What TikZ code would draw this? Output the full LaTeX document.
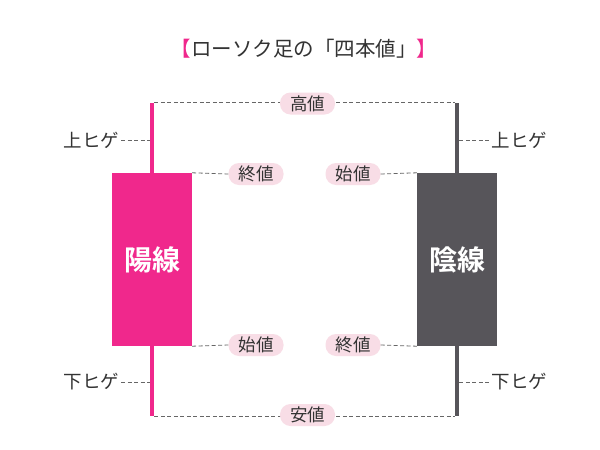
\documentclass[tikz,border=0pt]{standalone}
\usepackage{fontspec}
\newfontfamily\jp{Noto Sans CJK JP}
\newfontfamily\jpb{Noto Sans CJK JP Bold}
\definecolor{pinkc}{HTML}{F0288C}
\definecolor{grayc}{HTML}{57555A}
\definecolor{pillc}{HTML}{F8DDE6}
\definecolor{txtc}{HTML}{333333}
\definecolor{dashc}{HTML}{666666}
\tikzset{
  wickbox/.style={draw=none,fill=#1,minimum width=4.5pt,minimum height=313pt,inner sep=0pt},
  bodybox/.style={draw=none,fill=#1,minimum width=80pt,minimum height=173pt,inner sep=0pt,text=white,font=\jpb\fontsize{28}{28}\selectfont},
  pill/.style={fill=pillc,draw=none,rounded corners=10.5pt,minimum width=55pt,minimum height=22pt,inner sep=0pt,text=txtc,font=\jp\fontsize{17.5}{18}\selectfont},
  lbl/.style={text=txtc,inner sep=1.5pt,font=\jp\fontsize{18.5}{19}\selectfont},
  dline/.style={draw=dashc,line width=0.8pt,dash pattern=on 4pt off 2.5pt}
}
\begin{document}
\begin{tikzpicture}[x=1pt,y=-1pt]
\useasboundingbox (0,0) rectangle (600,450);
\fill[white] (0,0) rectangle (600,450);
% title
\node[text=txtc,font=\jp\fontsize{20.5}{21}\selectfont,inner sep=0pt] (title) at (304,49)
  {\textcolor{pinkc}{【}ローソク足の「四本値」\textcolor{pinkc}{】}};
% candles
\node[wickbox=pinkc] (lw) at (152,259.5) {};
\node[wickbox=grayc] (rw) at (457,259.5) {};
\node[bodybox=pinkc] (lb) at (152,259.5) {陽線};
\node[bodybox=grayc] (rb) at (457,259.5) {陰線};
% coordinates on wicks
\coordinate (lwtop) at (lw.north east);
\coordinate (rwtop) at (rw.north west);
\coordinate (lwbot) at (lw.south east);
\coordinate (rwbot) at (rw.south west);
\coordinate (lwu) at (lw.west |- 0,140);
\coordinate (rwu) at (rw.east |- 0,140);
\coordinate (lwd) at (lw.west |- 0,382);
\coordinate (rwd) at (rw.east |- 0,382);
% labels
\node[lbl,anchor=east] (lu) at (121,140) {上ヒゲ};
\node[lbl,anchor=west] (ru) at (490,140) {上ヒゲ};
\node[lbl,anchor=east] (ld) at (121,382) {下ヒゲ};
\node[lbl,anchor=west] (rd) at (490,382) {下ヒゲ};
% dashed lines
\draw[dline] (lwtop) -- (rwtop);
\draw[dline] (lwbot) -- (rwbot);
\draw[dline] (lu.east) -- (lwu);
\draw[dline] (rwu) -- (ru.west);
\draw[dline] (ld.east) -- (lwd);
\draw[dline] (rwd) -- (rd.west);
% pills
\node[pill] (high) at (307.5,103.5) {高値};
\node[pill] (low) at (307.5,415) {安値};
\node[pill] (lclose) at (256,174) {終値};
\node[pill] (lopen) at (256,345) {始値};
\node[pill] (ropen) at (353,174) {始値};
\node[pill] (rclose) at (353,345) {終値};
\draw[dline] (lb.north east) -- (lclose.west);
\draw[dline] (lb.south east) -- (lopen.west);
\draw[dline] (ropen.east) -- (rb.north west);
\draw[dline] (rclose.east) -- (rb.south west);
\end{tikzpicture}
\end{document}
